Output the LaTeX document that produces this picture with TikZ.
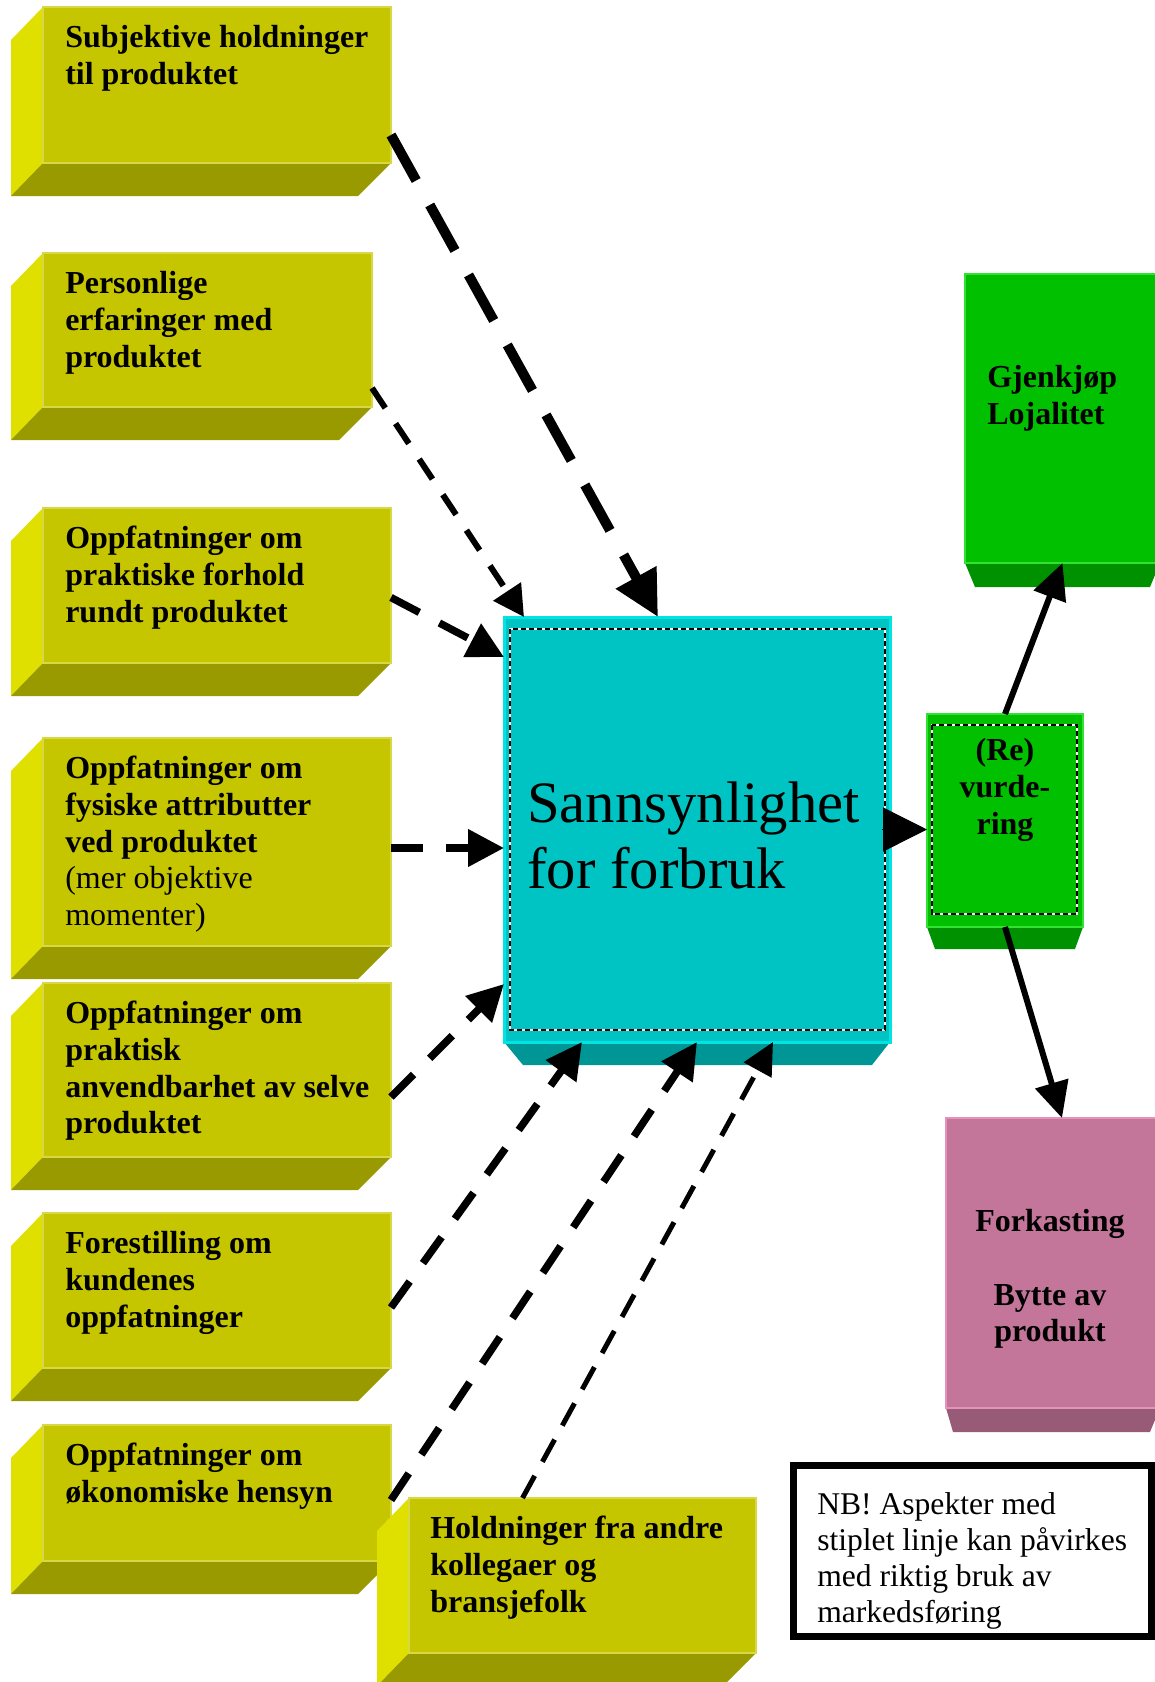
\documentclass[tikz,border=0pt]{standalone}
\usepackage{fontspec}
\setmainfont{Liberation Serif}
\usetikzlibrary{arrows.meta, calc, fit}
\definecolor{yellowfront}{RGB}{198, 198, 0}
\definecolor{yellowside}{RGB}{224, 224, 0}
\definecolor{yellowbottom}{RGB}{153, 153, 0}
\definecolor{yellowedge}{RGB}{216, 216, 70}
\definecolor{cyanfront}{RGB}{0, 196, 196}
\definecolor{cyanbottom}{RGB}{0, 150, 150}
\definecolor{cyanedge}{RGB}{0, 228, 228}
\definecolor{greenfront}{RGB}{0, 192, 0}
\definecolor{greenbottom}{RGB}{0, 145, 0}
\definecolor{greenedge}{RGB}{50, 225, 50}
\definecolor{pinkfront}{RGB}{195, 117, 154}
\definecolor{pinkbottom}{RGB}{151, 91, 120}
\definecolor{pinkedge}{RGB}{230, 145, 185}

% yellow block: name, x, y (front top left), width, height
\newcommand{\yellowblock}[5]{%
  \fill[yellowside] (#2,#3) -- ++(-32,33) -- ++(0,#5) -- ++(32,-33) -- cycle;
  \fill[yellowbottom] (#2,#3+#5) -- ++(#4,0) -- ++(-33,33) -- ++(-#4+1,0) -- cycle;
  \node[yface, fit={(#2,#3) (#2+#4,#3+#5)}] (#1) {};
}

\begin{document}
\begin{tikzpicture}[
    x=0.75pt, y=-0.75pt,
    face/.style={rectangle, inner sep=0pt, outer sep=0pt},
    yface/.style={face, draw=yellowedge, line width=1pt, fill=yellowfront},
    cface/.style={face, draw=cyanedge, line width=2.25pt, fill=cyanfront},
    gface/.style={face, draw=greenedge, line width=1.5pt, fill=greenfront},
    pface/.style={face, draw=pinkedge, line width=1.5pt, fill=pinkfront},
    nbbox/.style={face, draw=black, line width=5.25pt, fill=white},
    innerdash/.style={draw=white, line width=2pt, postaction={draw=black, dash pattern=on 4pt off 2pt}},
    boxtext/.style={anchor=north west, align=left, inner sep=0pt, font=\fontsize{24pt}{27.5pt}\selectfont\bfseries},
    midtext/.style={boxtext, anchor=north, align=center},
    bigtext/.style={anchor=north west, align=left, inner sep=0pt, font=\fontsize{44pt}{49.5pt}\selectfont},
    nbtext/.style={anchor=north west, align=left, inner sep=0pt, font=\fontsize{23.7pt}{27pt}\selectfont},
    arrow/.style={-{Triangle[length=27pt, width=25pt]}, line width=4.5pt},
    headonly/.style={-{Triangle[length=33pt, width=33pt]}, line width=1pt},
    dasharrow/.style={-{Triangle[length=27pt, width=27pt]}, line width=5.6pt, dash pattern=on 24pt off 17pt},
    bigdash/.style={-{Triangle[length=34pt, width=33pt]}, line width=7.5pt, dash pattern=on 39pt off 21pt},
    thindash/.style={-{Triangle[length=23pt, width=24pt]}, line width=4.5pt, dash pattern=on 18pt off 14pt},
    finedash/.style={-{Triangle[length=24pt, width=23pt]}, line width=3.75pt, dash pattern=on 19pt off 12pt}
]

\fill[white] (0,0) rectangle (1155,1682);
\useasboundingbox (0,0) rectangle (1155,1682);

% Left column
\yellowblock{subj}{43}{7}{348}{156}
\yellowblock{erfar}{43}{253}{329}{154}
\yellowblock{forhold}{43}{508}{348}{155}
\yellowblock{fysisk}{43}{738}{348}{208}
\yellowblock{anvend}{43}{983}{348}{174}
\yellowblock{forest}{43}{1213}{348}{155}
\yellowblock{okonom}{43}{1425}{348}{136}
\yellowblock{kolleg}{409}{1498}{347}{155}

\node[boxtext] (subj-t) at ($(subj.north west)+(22,15)$) {\strut Subjektive holdninger\\til produktet};
\node[boxtext] (erfar-t) at ($(erfar.north west)+(22,15)$) {\strut Personlige\\erfaringer med\\produktet};
\node[boxtext] (forhold-t) at ($(forhold.north west)+(22,15)$) {\strut Oppfatninger om\\praktiske forhold\\rundt produktet};
\node[boxtext] (fysisk-t) at ($(fysisk.north west)+(22,15)$) {\strut Oppfatninger om\\fysiske attributter\\ved produktet\\\textmd{(mer objektive}\\\textmd{momenter)}};
\node[boxtext] (anvend-t) at ($(anvend.north west)+(22,15)$) {\strut Oppfatninger om\\praktisk\\anvendbarhet av selve\\produktet};
\node[boxtext] (forest-t) at ($(forest.north west)+(22,15)$) {\strut Forestilling om\\kundenes\\oppfatninger};
\node[boxtext] (okonom-t) at ($(okonom.north west)+(22,15)$) {\strut Oppfatninger om\\økonomiske hensyn};
\node[boxtext] (kolleg-t) at ($(kolleg.north west)+(21,15)$) {\strut Holdninger fra andre\\kollegaer og\\bransjefolk};

% Sannsynlighet
\fill[cyanbottom] (504,1042) -- (890,1042) -- (872,1065) -- (523,1065) -- cycle;
\node[cface, fit={(504,617) (890,1042)}] (sann) {};
\draw[innerdash] ($(sann.north west)+(6,12)$) rectangle ($(sann.south east)+(-5,-12)$);
\node[bigtext] (sann-t) at ($(sann.north west)+(23,159)$) {\strut Sannsynlighet\\for forbruk};

% (Re)vurdering
\fill[greenbottom] (927,927) -- (1083,927) -- (1075,949) -- (935,949) -- cycle;
\node[gface, fit={(927,714) (1083,927)}] (vurd) {};
\draw[innerdash] ($(vurd.north west)+(5,11)$) rectangle ($(vurd.south east)+(-6,-13)$);
\node[midtext] (vurd-t) at ($(vurd.north)+(0,21)$) {\strut (Re)\\vurde-\\ring};

% Outcomes
\fill[greenbottom] (965,563) -- (1160,563) -- (1150,587) -- (975,587) -- cycle;
\node[gface, fit={(965,274) (1160,563)}] (gjenkj) {};
\node[boxtext] (gjenkj-t) at ($(gjenkj.north west)+(22,88)$) {\strut Gjenkjøp\\Lojalitet};

\fill[pinkbottom] (946,1408) -- (1160,1408) -- (1150,1432) -- (953,1432) -- cycle;
\node[pface, fit={(946,1118) (1160,1408)}] (forkast) {};
\node[midtext] (forkast-t) at ($(forkast.north)+(-3,88)$) {\strut Forkasting\\[27.5pt]Bytte av\\produkt};

% Note
\node[nbbox, fit={(793,1465) (1151,1636)}] (nb) {};
\node[nbtext] (nb-t) at ($(nb.north west)+(24,24)$) {\strut NB! Aspekter med\\stiplet linje kan påvirkes\\med riktig bruk av\\markedsføring};

% Dashed influences
\draw[bigdash] ($(subj.east)+(0,50)$) -- ($(sann.north)+(-39,0)$);
\draw[thindash] ($(erfar.south east)+(0,-19)$) -- ($(sann.north west)+(20,0)$);
\draw[dasharrow] ($(forhold.east)+(0,12)$) -- ($(sann.north west)+(0,40)$);
\coordinate (a4) at ($(fysisk.east)+(0,6)$);
\draw[dasharrow] (a4) -- (a4 -| sann.west);
\draw[dasharrow] ($(anvend.east)+(0,27)$) -- ($(sann.south west)+(0,-58)$);
\draw[dasharrow] ($(forest.east)+(0,17)$) -- ($(sann.south west)+(78,0)$);
\draw[dasharrow] ($(okonom.east)+(0,7)$) -- (sann.south);
\draw[finedash] ($(kolleg.north)+(-60,0)$) -- ($(sann.south)+(76,0)$);

% Solid arrows
\draw[headonly] ($(sann.east)+(-8,0)$) -- (sann.east -| vurd.west);
\draw[arrow] (vurd.north) -- (gjenkj.south);
\draw[arrow] (vurd.south) -- ($(forkast.north)+(9,0)$);

\end{tikzpicture}
\end{document}
